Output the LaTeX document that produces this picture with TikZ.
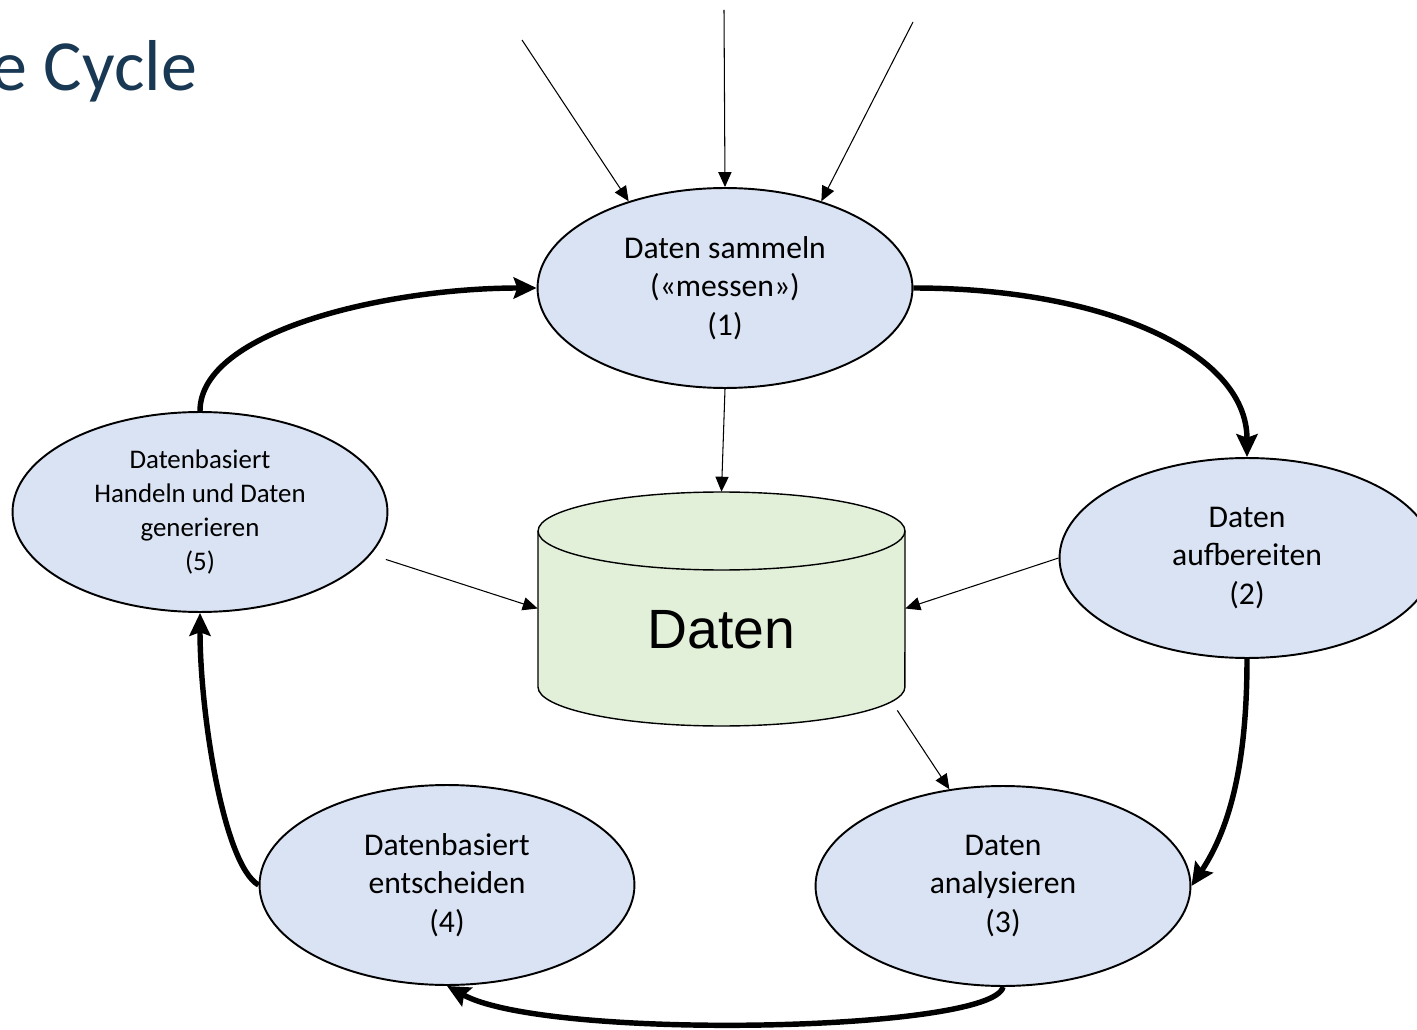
\documentclass[tikz,border=0pt]{standalone}
\usepackage{fontspec}
\setmainfont{Carlito}
\newfontfamily\arialfont{Liberation Sans}
\usepackage{tikz}
\usetikzlibrary{arrows.meta,shapes.geometric,calc}
\tikzset{phase/.style={ellipse, draw, line width=1.1pt, fill=stepblue,
         minimum width=7.5cm, minimum height=4cm, inner sep=0pt, align=center,
         font=\fontsize{18}{22}\selectfont},
         cycle/.style={line width=3.1pt, -{Stealth[length=13pt,width=12pt,inset=2pt]}},
         feed/.style={line width=0.6pt, -{Triangle[length=8.5pt,width=7.5pt]}}}
\definecolor{stepblue}{RGB}{218,227,243}
\definecolor{dbgreen}{RGB}{226,240,217}
\definecolor{titleblue}{RGB}{24,56,84}

\begin{document}
\begin{tikzpicture}[x=0.02cm,y=-0.02cm]
\useasboundingbox (0,0) rectangle (1417,1030);

\node [anchor=base east, text=titleblue, font=\fontsize{41}{48}\selectfont] (title) at (203,91) {e Cycle};

% the five phases
\node [phase] (collect) at (725,288) {Daten sammeln\\(«messen»)\\(1)};
\node [phase] (prepare) at (1247,558) {Daten\\aufbereiten\\(2)};
\node [phase] (analyse) at (1003,886) {Daten\\analysieren\\(3)};
\node [phase] (decide) at (447,885) {Datenbasiert\\entscheiden\\(4)};
\node [phase, font=\fontsize{15.3}{19.3}\selectfont] (act) at (200,512) {Datenbasiert\\Handeln und Daten\\generieren\\(5)};

% data store
\draw [line width=0.8pt, fill=dbgreen] (538,531) -- (538,687)
  arc [start angle=180, end angle=360, x radius=3.67cm, y radius=0.78cm] -- (905,531)
  arc [start angle=0, end angle=180, x radius=3.67cm, y radius=0.78cm] -- cycle;
\draw [line width=0.8pt] (538,531) arc [start angle=180, end angle=360, x radius=3.67cm, y radius=0.78cm];
\node [minimum width=7.34cm, minimum height=4.66cm, inner sep=0pt] (db) at (721.5,608.5) {};
\node [font=\arialfont\fontsize{31.5}{38}\selectfont] (dblabel) at ($(db.center)+(0,21)$) {Daten};

% sources
\coordinate (srcA) at (522,40);
\coordinate (srcB) at (724,10);
\coordinate (srcC) at (913,22);
\draw [feed] (srcA) -- (collect.138);
\draw [feed] (srcB) -- (collect.north);
\draw [feed] (srcC) -- (collect.42);

% into and out of the store
\draw [feed] (collect.south) -- (db.north);
\draw [feed, shorten <=9pt] (act.-14) -- (db.west);
\draw [feed] (prepare.west) -- (db.east);
\draw [feed] ($(db.-29)+(-8,0)$) -- (analyse.119);

% the cycle
\draw [cycle] (collect.east) .. controls +(190,0) and +(0,-105) .. (prepare.north);
\draw [cycle] (prepare.south) .. controls +(0,100) and +(40,-60) .. (analyse.east);
\draw [cycle] (analyse.south) .. controls +(-10,45) and +(100,55) .. (decide.south);
\draw [cycle] (decide.west) .. controls +(-35,-20) and +(0,100) .. (act.south);
\draw [cycle] (act.north) .. controls +(0,-80) and +(-150,0) .. (collect.west);
\end{tikzpicture}
\end{document}
